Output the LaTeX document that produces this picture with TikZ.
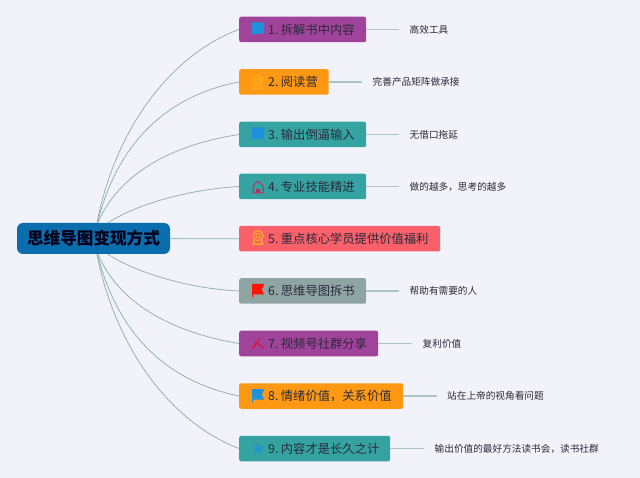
\documentclass[tikz,border=0pt]{standalone}
\usepackage{fontspec}
\setmainfont{Noto Sans CJK SC}
\usetikzlibrary{calc}
\newcommand\itemgap{\hspace{2.5pt}}
\definecolor{bgc}{HTML}{F2F2FA}
\definecolor{rootc}{HTML}{0A6DAE}
\definecolor{purplec}{HTML}{A0439A}
\definecolor{orangec}{HTML}{FF9812}
\definecolor{tealc}{HTML}{36A3A3}
\definecolor{redc}{HTML}{F8606A}
\definecolor{grayc}{HTML}{8FA5A3}
\definecolor{curvec}{HTML}{8FB0B0}
\definecolor{leafline}{HTML}{A8C6C8}
\definecolor{inkc}{HTML}{2A2A3A}
\definecolor{bluei}{HTML}{1E90DC}
\definecolor{awardi}{HTML}{FFAE22}
\tikzset{
  x=1pt,y=-1pt,
  rootbox/.style={draw=none,fill=rootc,rounded corners=6pt,minimum width=153pt,minimum height=31pt,inner sep=0pt,font=\fontsize{16.6pt}{18pt}\selectfont\bfseries,text=black!90!blue},
  itembox/.style={rounded corners=2pt,anchor=west,inner xsep=7pt,inner ysep=0pt,minimum height=25.5pt,align=left,text=inkc,font=\fontsize{12.3pt}{14pt}\selectfont,text width=#1pt-14pt},
  leaf/.style={anchor=west,inner xsep=10.5pt,inner ysep=1pt,text=inkc,font=\fontsize{9.65pt}{11pt}\selectfont},
  curve/.style={draw=curvec,line width=0.75pt},
  stem/.style={draw=leafline,line width=1.1pt},
  flagicon/.pic={\fill[#1] (-6,-7) -- (6.2,-7) -- (6.2,-6.5) -- (3.8,-1.5) -- (6.2,3.5) -- (-5.2,3.5) -- (-5.2,6.5) -- (-6,6.5) -- cycle;},
  squareicon/.pic={\fill[bluei] (-6.2,-6) -- (6,-6) -- (6,6) -- (2,5) -- (-6.2,6) -- cycle;},
  awardicon/.pic={
    \draw[awardi,line width=1.1pt] (0,-2) circle (5);
    \draw[awardi,line width=1.1pt] (0,-2) circle (2.2);
    \draw[awardi,line width=1.2pt,line join=round] (-3.4,2.4) -- (-5,7) -- (-2,5.8) -- (0,7.2) -- (2,5.8) -- (5,7) -- (3.4,2.4);},
  houseicon/.pic={
    \draw[#1,line width=1pt,line join=round] (-5,6) -- (-5,-1.2) -- (0,-6) -- (5,-1.2) -- (5,6) -- cycle;
    \fill[#1] (-2.2,6) -- (-2.2,1.6) -- (2.2,1.6) -- (2.2,6) -- cycle;},
  crossicon/.pic={
    \draw[#1,line width=1.3pt,line cap=round] (-5.5,5) -- (2,-5.5);
    \draw[#1,line width=1.3pt,line cap=round] (-2.5,-1.5) -- (5.5,5);},
  staricon/.pic={\fill[#1] (-90:6.8) -- (-54:3) -- (-18:6.8) -- (18:3) -- (54:6.8) -- (90:3) -- (126:6.8) -- (162:3) -- (198:6.8) -- (234:3) -- cycle;},
}
\begin{document}
\begin{tikzpicture}
\useasboundingbox (0,0) rectangle (640,478);
\fill[bgc] (0,0) rectangle (640,478);
\node[rootbox] (root) at (93.5,238.5) {思维导图变现方式};
\node[itembox=127,fill=purplec] (n1) at (239,29.5) {\hspace*{22pt}1.\itemgap 拆解书中内容};
\node[itembox=89.5,fill=orangec] (n2) at (239,82) {\hspace*{22pt}2.\itemgap 阅读营};
\node[itembox=127,fill=tealc] (n3) at (239,134.5) {\hspace*{22pt}3.\itemgap 输出倒逼输入};
\node[itembox=127,fill=tealc] (n4) at (239,186.5) {\hspace*{22pt}4.\itemgap 专业技能精进};
\node[itembox=201,fill=redc] (n5) at (239,238.7) {\hspace*{22pt}5.\itemgap 重点核心学员提供价值福利};
\node[itembox=127,fill=grayc] (n6) at (239,291) {\hspace*{22pt}6.\itemgap 思维导图拆书};
\node[itembox=139,fill=purplec] (n7) at (239,343.5) {\hspace*{22pt}7.\itemgap 视频号社群分享};
\node[itembox=164,fill=orangec] (n8) at (239,396) {\hspace*{22pt}8.\itemgap 情绪价值，关系价值};
\node[itembox=151,fill=tealc] (n9) at (239,448.5) {\hspace*{22pt}9.\itemgap 内容才是长久之计};
\node[leaf] (l1) at (399,29.5) {高效工具};
\node[leaf] (l2) at (362,82) {完善产品矩阵做承接};
\node[leaf] (l3) at (399,134.5) {无借口拖延};
\node[leaf] (l4) at (399,186.5) {做的越多，思考的越多};
\node[leaf] (l6) at (399,291) {帮助有需要的人};
\node[leaf] (l7) at (412,343.5) {复利价值};
\node[leaf] (l8) at (436.5,396) {站在上帝的视角看问题};
\node[leaf] (l9) at (424,448.5) {输出价值的最好方法读书会，读书社群};
\coordinate (t1) at ($(root.north)+(3.5,0)$);
\coordinate (t2) at ($(root.north)+(4,0)$);
\coordinate (t3) at ($(root.north)+(4.5,0)$);
\coordinate (t4) at ($(root.north)+(14.5,0)$);
\coordinate (b1) at ($(root.south)+(14.5,0)$);
\coordinate (b2) at ($(root.south)+(4.5,0)$);
\coordinate (b3) at ($(root.south)+(4,0)$);
\coordinate (b4) at ($(root.south)+(3.5,0)$);
\draw[curve] (t1) .. controls (115,130) and (170,55) .. (n1.west);
\draw[curve] (t2) .. controls (118,140) and (170,95) .. (n2.west);
\draw[curve] (t3) .. controls (118,175) and (170,145) .. (n3.west);
\draw[curve] (t4) .. controls (130,208) and (180,190) .. (n4.west);
\draw[curve] (b1) .. controls (130,269) and (180,288) .. (n6.west);
\draw[curve] (b2) .. controls (118,302) and (170,332) .. (n7.west);
\draw[curve] (b3) .. controls (118,337) and (170,382) .. (n8.west);
\draw[curve] (b4) .. controls (115,347) and (170,422) .. (n9.west);
\draw[stem] (root.east) -- (n5.west);
\draw[stem] (n1.east) -- (l1.west);
\draw[stem] (n2.east) -- (l2.west);
\draw[stem] (n3.east) -- (l3.west);
\draw[stem] (n4.east) -- (l4.west);
\draw[stem] (n6.east) -- (l6.west);
\draw[stem] (n7.east) -- (l7.west);
\draw[stem] (n8.east) -- (l8.west);
\draw[stem] (n9.east) -- (l9.west);
\pic at ($(n1.west)+(19,-1)$) {squareicon};
\pic at ($(n2.west)+(19,0)$) {awardicon};
\pic at ($(n3.west)+(19,-1)$) {squareicon};
\pic at ($(n4.west)+(19,0.5)$) {houseicon={purplec!60!red}};
\pic at ($(n5.west)+(19,-1)$) {awardicon};
\pic at ($(n6.west)+(19,0)$) {flagicon={red!85!orange}};
\pic at ($(n7.west)+(19,0)$) {crossicon={red!70!purplec}};
\pic at ($(n8.west)+(19,0)$) {flagicon={bluei}};
\pic at ($(n9.west)+(19,0.5)$) {staricon={bluei!70!tealc}};
\end{tikzpicture}
\end{document}
